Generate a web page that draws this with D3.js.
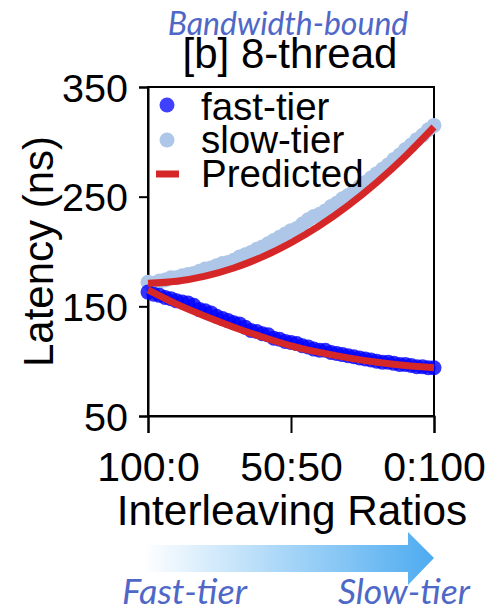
<!DOCTYPE html>
<html>
<head>
<meta charset="utf-8">
<script src="https://cdn.jsdelivr.net/npm/d3@7"></script>
<style>
  body { margin: 0; background: #fff; }
  svg { display: block; }
  .tick text { font-family: "Liberation Sans", Arial, sans-serif; }
</style>
</head>
<body>
<div id="plot"></div>
<script>
// slow-tier share of the interleaving (%), 100:0 -> 0:100
const slowShare = [0, 2, 4, 6, 8, 10, 12, 14, 16, 18, 20, 22, 24, 26, 28, 30, 32, 34, 36, 38, 40,
  42, 44, 46, 48, 50, 52, 54, 56, 58, 60, 62, 64, 66, 68, 70, 72, 74, 76, 78, 80,
  82, 84, 86, 88, 90, 92, 94, 96, 98, 100];

const fastTier = [163, 161, 160, 158, 157, 155, 154, 153, 151, 147, 146, 144, 141, 139, 137, 135, 134, 131, 128, 127, 125,
  124, 121, 120, 118, 117, 116, 114, 113, 111, 110, 110, 108, 107, 106, 105, 104, 103, 102, 101, 100,
  99, 99, 98, 97, 97, 96, 95, 95, 94, 94];

const slowTier = [172, 171, 173, 174, 176, 176, 178, 179, 180, 182, 184, 185, 187, 189, 190, 192, 195, 197, 199, 202, 204,
  207, 210, 213, 216, 219, 221, 225, 229, 232, 234, 237, 241, 244, 248, 251, 255, 259, 263, 267, 271,
  275, 279, 284, 288, 293, 297, 302, 306, 311, 315];

// predicted model curves
const predShare = [0, 10, 20, 30, 40, 50, 60, 70, 80, 90, 100];
const predFast = [165, 152, 141, 131, 122, 114, 108, 103, 99, 96, 94];
const predSlow = [171, 172.9, 177.6, 185, 195.1, 208, 223.6, 242, 263.1, 286.9, 313.5];

const yTicks = [50, 150, 250, 350];
const xTicks = [0, 50, 100];
const xTickLabels = ['100:0', '50:50', '0:100'];

const W = 493, H = 611;
const margin = { left: 148, right: 59, top: 87, bottom: 195 };
const font = '"Liberation Sans", Arial, sans-serif';
const italicFont = 'Lato, "Open Sans", sans-serif';
const labelBlue = '#4f68c8';

const svg = d3.select('#plot').append('svg')
  .attr('width', W).attr('height', H);

const x = d3.scaleLinear().domain([0, 100]).range([margin.left, W - margin.right]);
const y = d3.scaleLinear().domain([50, 350]).range([H - margin.bottom, margin.top]);

// box
svg.append('rect')
  .attr('x', x(0)).attr('y', y(350))
  .attr('width', x(100) - x(0)).attr('height', y(50) - y(350))
  .attr('fill', 'none').attr('stroke', '#000').attr('stroke-width', 2);

const yAxis = svg.append('g')
  .attr('transform', `translate(${x(0)},0)`)
  .call(d3.axisLeft(y).tickValues(yTicks).tickSize(9).tickPadding(11));
yAxis.selectAll('text').attr('font-size', 39.5).attr('fill', '#000').attr('dy', '0.36em');

const xAxis = svg.append('g')
  .attr('transform', `translate(0,${y(50)})`)
  .call(d3.axisBottom(x).tickValues(xTicks).tickFormat((d, i) => xTickLabels[i]).tickSize(17).tickPadding(19));
xAxis.selectAll('text').attr('font-size', 41).attr('fill', '#000');

[yAxis, xAxis].forEach(g => {
  g.select('.domain').attr('stroke', '#000').attr('stroke-width', 2);
  g.selectAll('.tick line').attr('stroke', '#000').attr('stroke-width', 2);
});

// scatter
const pts = svg.append('g');
pts.selectAll('circle.slow').data(slowShare).enter()
  .append('circle').attr('class', 'slow')
  .attr('cx', d => x(d)).attr('cy', (d, i) => y(slowTier[i]))
  .attr('r', 7.5).attr('fill', '#aec7e8');
pts.selectAll('circle.fast').data(slowShare).enter()
  .append('circle').attr('class', 'fast')
  .attr('cx', d => x(d)).attr('cy', (d, i) => y(fastTier[i]))
  .attr('r', 7.5).attr('fill', '#0000ff').attr('fill-opacity', 0.8);

// predicted
const line = d3.line().x(d => x(d[0])).y(d => y(d[1])).curve(d3.curveMonotoneX);
[predFast, predSlow].forEach(arr => {
  svg.append('path')
    .datum(predShare.map((s, i) => [s, arr[i]]))
    .attr('d', line)
    .attr('fill', 'none').attr('stroke', '#d62728').attr('stroke-width', 7);
});

// legend
const leg = svg.append('g').attr('font-family', font).attr('font-size', 38.5);
leg.append('circle').attr('cx', 167).attr('cy', 105).attr('r', 7.5).attr('fill', '#0000ff').attr('fill-opacity', 0.75);
leg.append('circle').attr('cx', 167).attr('cy', 140).attr('r', 7.5).attr('fill', '#aec7e8');
leg.append('line').attr('x1', 156).attr('x2', 179).attr('y1', 174).attr('y2', 174)
  .attr('stroke', '#d62728').attr('stroke-width', 7);
leg.append('text').attr('x', 201).attr('y', 120).text('fast-tier');
leg.append('text').attr('x', 201).attr('y', 153).text('slow-tier');
leg.append('text').attr('x', 201).attr('y', 187).text('Predicted');

// titles
svg.append('text').attr('x', 288).attr('y', 35).attr('text-anchor', 'middle')
  .attr('font-family', italicFont).attr('font-style', 'italic').attr('font-size', 32)
  .attr('fill', labelBlue).text('Bandwidth-bound');
svg.append('text').attr('x', 290).attr('y', 68).attr('text-anchor', 'middle')
  .attr('font-family', font).attr('font-size', 42).text('[b] 8-thread');

svg.append('text')
  .attr('transform', `translate(53,${(y(50) + y(350)) / 2}) rotate(-90)`)
  .attr('text-anchor', 'middle')
  .attr('font-family', font).attr('font-size', 42).text('Latency (ns)');

svg.append('text').attr('x', 292).attr('y', 525).attr('text-anchor', 'middle')
  .attr('font-family', font).attr('font-size', 42.3).text('Interleaving Ratios');

// gradient arrow
const grad = svg.append('defs').append('linearGradient').attr('id', 'arrowGrad');
grad.append('stop').attr('offset', '0%').attr('stop-color', '#ffffff');
grad.append('stop').attr('offset', '100%').attr('stop-color', '#4dabf0');
svg.append('path')
  .attr('d', 'M143,545 L408,545 L408,532 L434,558 L408,585 L408,572 L143,572 Z')
  .attr('fill', 'url(#arrowGrad)');

svg.append('text').attr('x', 122).attr('y', 604)
  .attr('font-family', italicFont).attr('font-style', 'italic').attr('font-size', 35)
  .attr('textLength', 125).attr('lengthAdjust', 'spacingAndGlyphs')
  .attr('fill', labelBlue).text('Fast-tier');
svg.append('text').attr('x', 338).attr('y', 604)
  .attr('font-family', italicFont).attr('font-style', 'italic').attr('font-size', 35)
  .attr('textLength', 132).attr('lengthAdjust', 'spacingAndGlyphs')
  .attr('fill', labelBlue).text('Slow-tier');
</script>
</body>
</html>
